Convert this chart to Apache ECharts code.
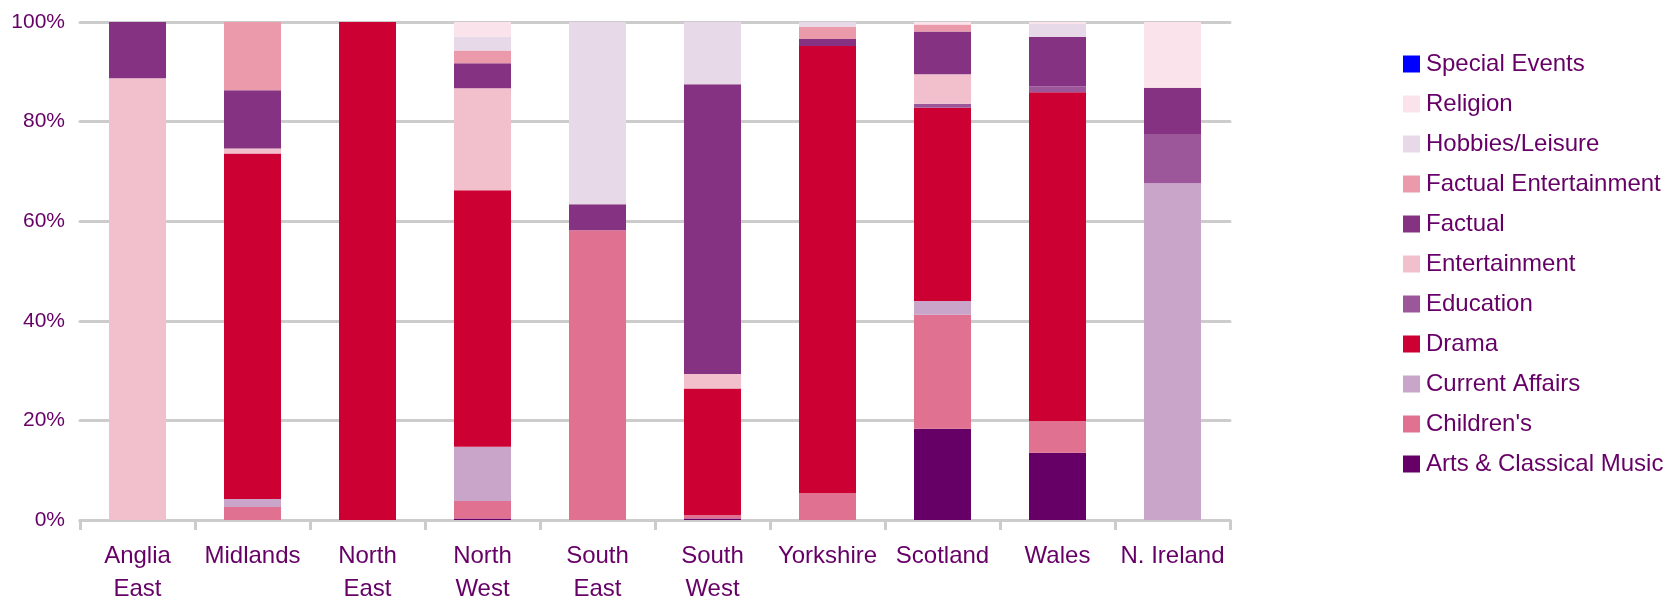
<!DOCTYPE html>
<html>
<head>
<meta charset="utf-8">
<script src="https://cdn.jsdelivr.net/npm/echarts@6/dist/echarts.min.js"></script>
<style>
  html, body { margin: 0; padding: 0; background: #ffffff; }
  #chart { width: 1673px; height: 599px; }
</style>
</head>
<body>
<div id="chart"></div>
<script>
// Categories (regions)
const categories = ['Anglia\nEast', 'Midlands', 'North\nEast', 'North\nWest', 'South\nEast', 'South\nWest', 'Yorkshire', 'Scotland', 'Wales', 'N. Ireland'];

// Percentage share of each genre per region
const artsClassical       = [0,    0,    0,   0.3,  0,    0.3,  0,    18.3, 13.5, 0];
const childrens           = [0,    2.6,  0,   3.5,  58.2, 0.7,  5.4,  22.9, 6.4,  0];
const currentAffairs      = [0,    1.6,  0,   10.9, 0,    0,    0,    2.8,  0,    67.6];
const drama               = [0,    69.4, 100, 51.5, 0,    25.4, 89.8, 38.8, 66.0, 0];
const education           = [0,    0,    0,   0,    0,    0,    0,    0.8,  1.2,  9.9];
const entertainment       = [88.7, 1.0,  0,   20.5, 0,    2.9,  0,    5.9,  0,    0];
const factual             = [11.3, 11.7, 0,   5.0,  5.2,  58.2, 1.4,  8.6,  9.9,  9.3];
const factualEntertainment= [0,    13.7, 0,   2.6,  0,    0,    2.4,  1.4,  0,    0];
const hobbiesLeisure      = [0,    0,    0,   2.8,  36.6, 12.5, 1.0,  0,    2.6,  0];
const religion            = [0,    0,    0,   2.9,  0,    0,    0,    0.5,  0.4,  13.2];
const specialEvents       = [0,    0,    0,   0,    0,    0,    0,    0,    0,    0];

// Y tick labels
const yTicks = [0, 20, 40, 60, 80, 100];

const seriesDefs = [
  { name: 'Arts & Classical Music', data: artsClassical, color: '#660066' },
  { name: "Children's", data: childrens, color: '#E17190' },
  { name: 'Current Affairs', data: currentAffairs, color: '#C9A5C9' },
  { name: 'Drama', data: drama, color: '#CC0033' },
  { name: 'Education', data: education, color: '#9B5799' },
  { name: 'Entertainment', data: entertainment, color: '#F2C0CC' },
  { name: 'Factual', data: factual, color: '#863282' },
  { name: 'Factual Entertainment', data: factualEntertainment, color: '#EA9AAB' },
  { name: 'Hobbies/Leisure', data: hobbiesLeisure, color: '#E8D9E8' },
  { name: 'Religion', data: religion, color: '#FAE3EA' },
  { name: 'Special Events', data: specialEvents, color: '#0000FF' }
];

const textColor = '#660066';
const fontFamily = '"Liberation Sans", Arial, sans-serif';

const chart = echarts.init(document.getElementById('chart'), null, { renderer: 'canvas' });

chart.setOption({
  animation: false,
  backgroundColor: '#ffffff',
  grid: { left: 80, right: 443, top: 22, bottom: 79, containLabel: false, outerBoundsMode: 'none' },
  legend: {
    orient: 'vertical',
    left: 1403,
    top: 52,
    padding: 0,
    itemWidth: 17,
    itemHeight: 17,
    itemGap: 16,
    icon: 'rect',
    data: seriesDefs.map(s => s.name).reverse(),
    textStyle: { color: textColor, fontSize: 24, fontFamily: fontFamily, lineHeight: 24, padding: [0, 0, 0, 1] }
  },
  xAxis: {
    type: 'category',
    data: categories,
    boundaryGap: true,
    axisLine: { show: true, lineStyle: { color: '#CCCCCC', width: 3 } },
    axisTick: { show: true, alignWithLabel: false, length: 10, lineStyle: { color: '#CCCCCC', width: 3 } },
    axisLabel: {
      interval: 0,
      color: textColor,
      fontSize: 24,
      fontFamily: fontFamily,
      lineHeight: 33,
      margin: 20
    }
  },
  yAxis: {
    type: 'value',
    min: yTicks[0],
    max: yTicks[yTicks.length - 1],
    interval: 20,
    axisLine: { show: false },
    axisTick: { show: false },
    splitLine: { show: true, lineStyle: { color: '#CCCCCC', width: 3, cap: 'round' } },
    axisLabel: {
      color: textColor,
      fontSize: 21,
      fontFamily: fontFamily,
      margin: 15,
      formatter: '{value}%'
    }
  },
  series: seriesDefs.map(s => ({
    name: s.name,
    type: 'bar',
    stack: 'total',
    barWidth: 57,
    data: s.data,
    itemStyle: { color: s.color },
    emphasis: { disabled: true }
  }))
});
</script>
</body>
</html>
